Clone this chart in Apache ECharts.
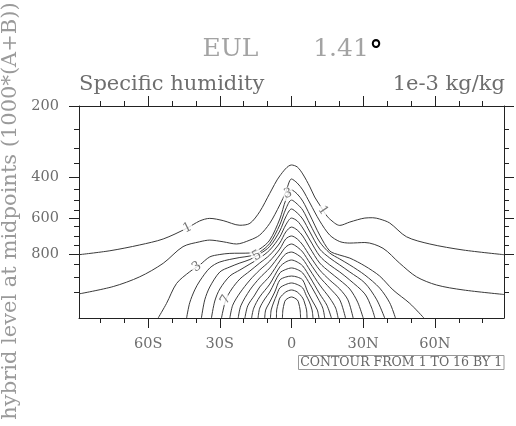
<!DOCTYPE html>
<html><head><meta charset="utf-8">
<script src="https://cdn.jsdelivr.net/npm/echarts@6/dist/echarts.min.js"></script>
<style>html,body{margin:0;padding:0;background:#fff}#c{width:516px;height:426px}</style>
</head><body><div id="c"></div>
<script>
// contour levels (1e-3 kg/kg)
const contourLevels = [1,2,3,4,5,6,7,8,9,10,11,12,13,14,15,16];
// each contour: [latitude, pressure (hPa)]
const contour1 = [[-88.93,800],[-76,779],[-63.5,748],[-53.7,716],[-43.9,659],[-38.4,614],[-34.2,598],[-28.6,612],[-21.6,641],[-17.4,629],[-13.3,556],[-9.1,469],[-4.9,395],[0,356],[2.4,363],[4.7,388],[7.7,440],[9.7,486],[11.8,523],[13.9,564],[16,602],[20.2,642],[24.4,621],[30.7,596],[34,594],[36.9,602],[41.1,627],[48.1,704],[57.9,743],[71.8,775],[88.93,800]];
const contour2 = [[-88.93,952],[-74.6,930],[-63.5,898],[-53.7,843],[-45.4,757],[-38.4,731],[-34.2,722],[-28.6,731],[-23,743],[-17.4,722],[-13.3,695],[-9.1,629],[-4.9,523],[-2.4,463],[0,407],[2.4,424],[4.7,453],[7.7,514],[11.8,614],[16,695],[20.2,730],[24.4,738],[30.7,735],[38.3,766],[45.3,843],[52.3,898],[60.7,925],[71.8,941],[88.93,953]];
const contour3 = [[-55.8,992.6],[-52.3,968],[-48.1,920],[-42.6,878],[-38.4,851],[-34.2,811],[-30,799],[-25.8,793],[-17.4,791],[-13.3,770],[-9.1,722],[-4.9,602],[-2.4,500],[0,453],[2.4,472],[4.7,505],[7.7,577],[11.8,695],[16,780],[20.2,802],[24.4,817],[30.7,855],[36.9,895],[42.5,941],[49.5,968],[55.4,992.6]];
const contour4 = [[-43.9,992.6],[-42.6,967],[-40.5,941],[-38.4,912],[-34.2,863],[-30,836.5],[-21.6,814],[-17.4,806.5],[-13.3,786],[-9.1,740],[-4.9,639],[-2.4,542],[0,500],[2.4,519],[4.7,547],[7.7,633],[11.8,732],[16,791],[20.2,821.5],[24.4,851],[30.7,891],[36.9,935],[41.1,967],[43.5,992.6]];
const contour5 = [[-37.7,992.6],[-36.3,962],[-34.2,931.5],[-30,879],[-25.8,859],[-21.6,841.5],[-17.4,824],[-13.3,796],[-9.1,756],[-4.9,673],[-2.4,589],[0,542],[2.4,564],[4.7,602],[7.7,678.5],[11.8,770],[16,816.5],[20.2,851],[24.4,879],[30.7,918.5],[35.7,962],[39,992.6]];
const contour6 = [[-33.5,992.6],[-32.1,964],[-30,938],[-25.8,895],[-21.6,871],[-17.4,846.5],[-13.3,816.5],[-9.1,775],[-4.9,705],[-2.4,639],[0,596],[2.4,614],[4.7,657],[7.7,721.5],[11.8,806.5],[16,851],[20.2,879],[24.4,909],[30.7,952],[33.6,976],[34.9,992.6]];
const contour7 = [[-29.3,992.6],[-27.5,962],[-25,938],[-21.6,905.5],[-17.4,875],[-13.3,841.5],[-9.1,801.5],[-4.9,737.6],[-2.4,678.5],[0,652],[2.4,668],[4.7,700],[7.7,764],[11.8,841.5],[16,879],[20.2,909],[24.4,938],[27.7,966],[30,992.6]];
const contour8 = [[-25.8,992.6],[-24.6,971],[-21.6,950.5],[-17.4,909],[-13.3,871],[-9.1,831.5],[-4.9,770],[-2.4,716],[0,700],[2.4,716],[4.7,748],[7.7,806.5],[11.8,871],[16,909],[20.2,938],[23.6,962],[25.8,992.6]];
const contour9 = [[-22.3,992.6],[-21.2,972],[-17.4,941],[-13.3,902],[-9.1,863],[-4.9,801.5],[-2.4,759],[0,743],[2.4,759],[4.7,786],[7.7,841.5],[11.8,899],[16,935],[20.2,962],[22.6,992.6]];
const contour10 = [[-19.5,992.6],[-18.3,972],[-15.4,954],[-13.3,931.5],[-9.1,895],[-4.9,831.5],[-2.4,796],[0,786],[2.4,799],[4.7,821.5],[7.7,871],[11.8,925],[16,959],[18.5,976],[19.5,992.6]];
const contour11 = [[-16.7,992.6],[-15.8,976],[-13.3,957],[-9.1,922],[-4.9,859],[-2.4,836.5],[0,826.5],[2.4,836.5],[4.7,855],[7.7,899],[11.8,952],[14.8,971],[16.7,992.6]];
const contour12 = [[-14,992.6],[-13.3,976],[-11.2,960.6],[-9.1,947.7],[-4.9,883],[-2.4,869],[0,863],[2.4,869],[4.7,883],[7.7,922],[11,959],[13.1,976],[13.9,992.6]];
const contour13 = [[-11.2,992.6],[-10.8,979],[-9.1,965.7],[-7,947.7],[-4.9,909],[-2.4,899],[0,895],[2.4,899],[4.7,909],[6.8,947.7],[9,965.7],[10.8,979],[11.5,992.6]];
const contour14 = [[-8.8,992.6],[-8.5,979],[-7.4,965.7],[-6.2,954],[-4.9,934.7],[-2.4,923.4],[0,918.5],[2.4,923.4],[4.7,934.7],[6.2,955],[7.5,965.7],[8.6,979],[9,992.6]];
const contour15 = [[-6.3,992.6],[-6.2,979],[-5.5,967.3],[-4.9,959],[-2.4,947.7],[0,941.2],[2.4,947.7],[4.7,959],[5.5,967.3],[6.3,979],[6.5,992.6]];
const contour16 = [[-3.8,992.6],[-3.6,979],[-3,967.3],[-2.4,962],[0,957.2],[2.4,962],[3,967.3],[3.6,979],[3.8,992.6]];
const contourLines = [contour1,contour2,contour3,contour4,contour5,contour6,contour7,contour8,contour9,contour10,contour11,contour12,contour13,contour14,contour15,contour16];

// line labels: text, latitude, pressure, angle
const labelTexts = ['1','1','3','3','5','7'];
const labelLats = [-43.5, 13.1, -39.7, -1.5, -14.5, -27.6];
const labelPressures = [657, 549, 859, 470, 805, 962];
const labelAngles = [26, -55, 35, 15, 30, 60];

// axis ticks
const latTicksMajor = [-60,-30,0,30,60];
const latTicksMinor = [-80,-70,-50,-40,-20,-10,10,20,40,50,70,80];
const pressureTicksMajor = [200,400,600,800];
const pressureTicksMinor = [250,300,350,450,500,550,650,700,750,850,900,950];
const latMin = -88.93, latMax = 88.93;

// irregular (hybrid level) vertical axis: pressure knots and their fraction of axis height
const axisPressureKnots = [200,250,300,350,400,450,500,550,600,650,700,750,800,850,900,950,992.6];
const axisFractionKnots = [1,0.8915,0.8005,0.7297,0.6637,0.6071,0.5566,0.5061,0.4684,0.4307,0.3868,0.3429,0.2986,0.2514,0.1920,0.1193,0];

function pToU(p){
  const P = axisPressureKnots, U = axisFractionKnots;
  if (p <= P[0]) return U[0];
  for (let i=0;i<P.length-1;i++){
    if (p <= P[i+1]) { const t=(p-P[i])/(P[i+1]-P[i]); return U[i]+t*(U[i+1]-U[i]); }
  }
  return U[U.length-1];
}
function fmtLat(v){ v=Math.round(v); return v<0 ? (-v)+'S' : (v>0 ? v+'N' : '0'); }
function fmtP(v){ let best=pressureTicksMajor[0], d=1e9; pressureTicksMajor.forEach(p=>{const e=Math.abs(pToU(p)-v); if(e<d){d=e;best=p;}}); return String(best); }

const FONT = 'DejaVu Serif';
const AX = '#222';
const majU = pressureTicksMajor.map(pToU), minU = pressureTicksMinor.map(pToU);

function xAx(pos, vals, len, label){
  return {type:'value', gridIndex:0, min:latMin, max:latMax, position:pos,
    axisLine:{show:len===10, onZero:false, lineStyle:{color:AX,width:1}},
    axisTick:{show:true, inside:false, length:len, customValues:vals, lineStyle:{color:AX,width:1}},
    axisLabel:{show:label, customValues:vals, formatter:fmtLat, margin:19, color:'#6e6e6e', fontFamily:FONT, fontSize:14.5},
    splitLine:{show:false}, minorTick:{show:false}};
}
function yAx(pos, vals, len, label){
  return {type:'value', gridIndex:0, min:0, max:1, position:pos,
    axisLine:{show:len===10, onZero:false, lineStyle:{color:AX,width:1}},
    axisTick:{show:true, inside:false, length:len, customValues:vals, lineStyle:{color:AX,width:1}},
    axisLabel:{show:label, customValues:vals, formatter:fmtP, margin:20, color:'#6e6e6e', fontFamily:FONT, fontSize:14.5},
    splitLine:{show:false}, minorTick:{show:false}};
}

const series = contourLines.map((pts,i)=>({
  name:'c'+contourLevels[i], type:'line', xAxisIndex:0, yAxisIndex:0,
  data: pts.map(([la,p])=>[la,pToU(p)]),
  showSymbol:false, symbol:'none', smooth:0.3, silent:true, z:2,
  lineStyle:{color:'#3a3a3a', width:1}
}));
series.push({
  type:'scatter', xAxisIndex:0, yAxisIndex:0, z:5, zlevel:0, silent:true, symbol:'rect', symbolSize:1,
  itemStyle:{color:'rgba(255,255,255,0)'},
  data: labelTexts.map((t,i)=>({name:t, value:[labelLats[i], pToU(labelPressures[i])], label:{rotate:labelAngles[i]}})),
  label:{show:true, position:'inside', formatter:p=>p.name, color:'#555', fontFamily:FONT, fontSize:13, backgroundColor:'#fff', padding:[0,1], lineHeight:13},
  labelLayout:{hideOverlap:false}
});

const chart = echarts.init(document.getElementById('c'), null, {renderer:'canvas'});
chart.setOption({
  animation:false, backgroundColor:'#fff',
  grid:{left:79, right:12, top:106, bottom:108, containLabel:false},
  xAxis:[xAx('bottom',latTicksMajor,10,true), xAx('bottom',latTicksMinor,5,false), xAx('top',latTicksMajor,10,false), xAx('top',latTicksMinor,5,false)],
  yAxis:[yAx('left',majU,10,true), yAx('left',minU,5,false), yAx('right',majU,10,false), yAx('right',minU,5,false)],
  series: series,
  graphic:[
    {type:'text', x:230.5, y:49, style:{text:'EUL', fontFamily:FONT, fontSize:25, fill:'#a3a3a3', align:'center', verticalAlign:'middle', textAlign:'center', textVerticalAlign:'middle'}},
    {type:'text', x:341, y:49, style:{text:'1.41', fontFamily:FONT, fontSize:25, fill:'#a3a3a3', align:'center', verticalAlign:'middle', textAlign:'center', textVerticalAlign:'middle'}},
    {type:'text', x:376, y:52, style:{text:'°', fontFamily:'DejaVu Sans', fontWeight:'bold', fontSize:26, fill:'#000', align:'center', verticalAlign:'middle', textAlign:'center', textVerticalAlign:'middle'}},
    {type:'text', x:79, y:85, style:{text:'Specific humidity', fontFamily:FONT, fontSize:21, fill:'#6e6e6e', align:'left', verticalAlign:'middle', textAlign:'left', textVerticalAlign:'middle'}},
    {type:'text', x:505, y:85, style:{text:'1e-3 kg/kg', fontFamily:FONT, fontSize:21, fill:'#6e6e6e', align:'right', verticalAlign:'middle', textAlign:'right', textVerticalAlign:'middle'}},
    {type:'text', x:11, y:211, rotation:Math.PI/2, style:{text:'hybrid level at midpoints (1000*(A+B))', fontFamily:FONT, fontSize:21, fill:'#9a9a9a', align:'center', verticalAlign:'middle', textAlign:'center', textVerticalAlign:'middle'}},
    {type:'rect', shape:{x:298.5, y:355.5, width:205.5, height:14}, style:{fill:'#fff', stroke:'#999', lineWidth:1}},
    {type:'text', x:401.2, y:362.8, style:{text:'CONTOUR FROM 1 TO 16 BY 1', fontFamily:FONT, fontSize:12.5, fill:'#666', align:'center', verticalAlign:'middle', textAlign:'center', textVerticalAlign:'middle'}}
  ]
});
</script>
</body></html>
